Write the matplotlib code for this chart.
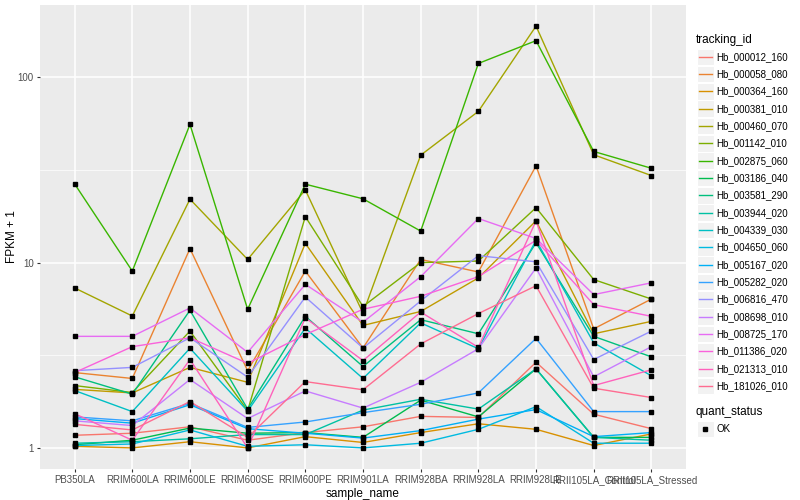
import matplotlib
matplotlib.use("Agg")
import matplotlib.pyplot as plt
import matplotlib.patches as patches
from matplotlib.lines import Line2D
import numpy as np

plt.rcParams["font.family"] = ["Liberation Sans", "DejaVu Sans"]

# samples on the x axis
samples = ["PB350LA", "RRIM600LA", "RRIM600LE", "RRIM600SE", "RRIM600PE",
           "RRIM901LA", "RRIM928BA", "RRIM928LA", "RRIM928LE",
           "RRII105LA_Control", "RRII105LA_Stressed"]

tracking_ids = ["Hb_000012_160", "Hb_000058_080", "Hb_000364_160", "Hb_000381_010",
                "Hb_000460_070", "Hb_001142_010", "Hb_002875_060", "Hb_003186_040",
                "Hb_003581_290", "Hb_003944_020", "Hb_004339_030", "Hb_004650_060",
                "Hb_005167_020", "Hb_005282_020", "Hb_006816_470", "Hb_008698_010",
                "Hb_008725_170", "Hb_011386_020", "Hb_021313_010", "Hb_181026_010"]

# ggplot hue palette for 20 levels
colors = ["#F8766D", "#EA8331", "#D89000", "#C09B00", "#A3A500", "#7CAE00", "#39B600",
          "#00BB4E", "#00BF7D", "#00C1A3", "#00BFC4", "#00BAE0", "#00B0F6", "#35A2FF",
          "#9590FF", "#C77CFF", "#E76BF3", "#FA62DB", "#FF62BC", "#FF6C91"]

# FPKM + 1, one list per tracking id (same order as tracking_ids)
hb_000012_160 = [1.17, 1.20, 1.30, 1.10, 1.21, 1.30, 1.48, 1.46, 2.90, 1.52, 1.27]
hb_000058_080 = [2.55, 2.37, 11.9, 2.61, 9.0, 3.46, 10.4, 8.9, 33.3, 4.39, 6.36]
hb_000364_160 = [1.02, 1.00, 1.08, 1.00, 1.15, 1.07, 1.21, 1.35, 1.26, 1.03, 1.19]
hb_000381_010 = [2.07, 1.98, 2.72, 2.26, 12.7, 4.58, 5.45, 8.27, 16.8, 4.13, 4.82]
hb_000460_070 = [7.3, 5.15, 22.0, 10.4, 24.7, 5.33, 38.0, 65.5, 189.0, 38.2, 29.5]
hb_001142_010 = [2.17, 1.99, 4.27, 1.59, 17.7, 5.8, 10.0, 10.2, 19.8, 8.1, 6.36]
hb_002875_060 = [26.6, 9.0, 55.7, 5.6, 26.5, 22.1, 14.8, 118.8, 157.7, 39.8, 32.3]
hb_003186_040 = [1.04, 1.10, 1.28, 1.20, 1.21, 1.14, 1.81, 1.47, 2.67, 1.14, 1.14]
hb_003581_290 = [2.42, 1.95, 5.53, 1.62, 5.13, 2.75, 4.92, 4.13, 12.8, 4.0, 3.1]
hb_003944_020 = [1.06, 1.08, 1.12, 1.18, 1.18, 1.60, 1.83, 1.62, 2.67, 1.14, 1.10]
hb_004339_030 = [2.04, 1.57, 3.45, 1.58, 4.43, 2.37, 4.73, 3.43, 13.2, 3.69, 2.45]
hb_004650_060 = [1.03, 1.05, 1.25, 1.02, 1.04, 1.00, 1.06, 1.26, 1.67, 1.06, 1.06]
hb_005167_020 = [1.44, 1.36, 1.71, 1.27, 1.20, 1.13, 1.24, 1.43, 1.61, 1.15, 1.21]
hb_005282_020 = [1.47, 1.40, 1.74, 1.29, 1.38, 1.55, 1.72, 1.98, 3.9, 1.57, 1.57]
hb_006816_470 = [2.61, 2.72, 3.93, 2.41, 6.52, 3.46, 6.21, 10.9, 10.1, 3.0, 4.27]
hb_008698_010 = [1.40, 1.32, 2.34, 1.44, 2.03, 1.64, 2.26, 3.43, 9.36, 2.42, 3.52]
hb_008725_170 = [4.0, 4.0, 5.69, 3.28, 7.63, 4.77, 8.4, 17.3, 13.5, 6.72, 7.78]
hb_011386_020 = [2.55, 3.52, 3.93, 2.86, 4.09, 5.6, 6.58, 8.4, 13.2, 5.93, 5.13]
hb_021313_010 = [1.53, 1.10, 3.0, 1.00, 5.03, 2.96, 5.41, 3.49, 16.8, 2.17, 2.64]
hb_181026_010 = [1.34, 1.25, 1.78, 1.14, 2.28, 2.06, 3.64, 5.31, 7.5, 2.10, 1.87]

series = [hb_000012_160, hb_000058_080, hb_000364_160, hb_000381_010, hb_000460_070,
          hb_001142_010, hb_002875_060, hb_003186_040, hb_003581_290, hb_003944_020,
          hb_004339_030, hb_004650_060, hb_005167_020, hb_005282_020, hb_006816_470,
          hb_008698_010, hb_008725_170, hb_011386_020, hb_021313_010, hb_181026_010]

W, H = 800, 500
fig = plt.figure(figsize=(W / 100, H / 100), dpi=100)
ax = fig.add_axes([40 / W, 1 - 469 / H, (686 - 40) / W, (469 - 5) / H])
ax.set_facecolor("#EBEBEB")

x = np.arange(len(samples))
for vals, col in zip(series, colors):
    ax.plot(x, vals, color=col, lw=1.0, zorder=3)
    ax.plot(x, vals, ls="none", marker="s", ms=2.2, color="black", zorder=4)

ax.set_yscale("log")
allv = np.concatenate([np.array(s) for s in series])
lo, hi = np.log10(allv.min()), np.log10(allv.max())
pad = 0.05 * (hi - lo)
ax.set_ylim(10 ** (lo - pad), 10 ** (hi + pad))
ax.set_xlim(-0.6, len(samples) - 0.4)

ax.set_yticks([1, 10, 100])
ax.set_yticklabels(["1", "10", "100"])
ax.set_yticks([10 ** 0.5, 10 ** 1.5], minor=True)
ax.yaxis.set_minor_formatter(plt.NullFormatter())
ax.set_xticks(x)
ax.set_xticklabels(samples)

ax.grid(True, which="major", color="white", lw=1.1, zorder=0)
ax.grid(True, which="minor", axis="y", color="white", lw=0.5, zorder=0)
ax.set_axisbelow(True)
for sp in ax.spines.values():
    sp.set_visible(False)
ax.tick_params(axis="both", which="major", length=2.5, width=0.8, color="#333333",
               labelsize=7, labelcolor="#4D4D4D", pad=2)
ax.tick_params(axis="y", which="minor", length=0)

ax.set_xlabel("sample_name", fontsize=8.5, labelpad=2)
ax.set_ylabel("FPKM + 1", fontsize=8.5)
ax.yaxis.set_label_coords((18 - 40) / (686 - 40), 0.5)

# legend drawn by hand in ggplot style
def fx(px):
    return px / W

def fy(py):
    return 1 - py / H

fig.text(fx(696), fy(40.5), "tracking_id", fontsize=8.5, va="center", ha="left")
for i, (tid, col) in enumerate(zip(tracking_ids, colors)):
    cy = 56.7 + i * 17.33
    fig.patches.append(patches.Rectangle((fx(697), fy(cy + 8.2)), 16.5 / W, 16.4 / H,
                                         transform=fig.transFigure, facecolor="#F2F2F2",
                                         edgecolor="white", lw=0.8))
    fig.lines.append(Line2D([fx(698.5), fx(711.5)], [fy(cy), fy(cy)],
                            transform=fig.transFigure, color=col, lw=1.0))
    fig.text(fx(716.5), fy(cy), tid, fontsize=7, va="center", ha="left")

fig.text(fx(696), fy(412), "quant_status", fontsize=8.5, va="center", ha="left")
fig.patches.append(patches.Rectangle((fx(697), fy(429 + 8.2)), 16.5 / W, 16.4 / H,
                                     transform=fig.transFigure, facecolor="#F2F2F2",
                                     edgecolor="white", lw=0.8))
fig.lines.append(Line2D([fx(705)], [fy(429)], transform=fig.transFigure, ls="none",
                        marker="s", ms=2.2, color="black"))
fig.text(fx(716.5), fy(429), "OK", fontsize=7, va="center", ha="left")

fig.savefig("out.png", dpi=100)
